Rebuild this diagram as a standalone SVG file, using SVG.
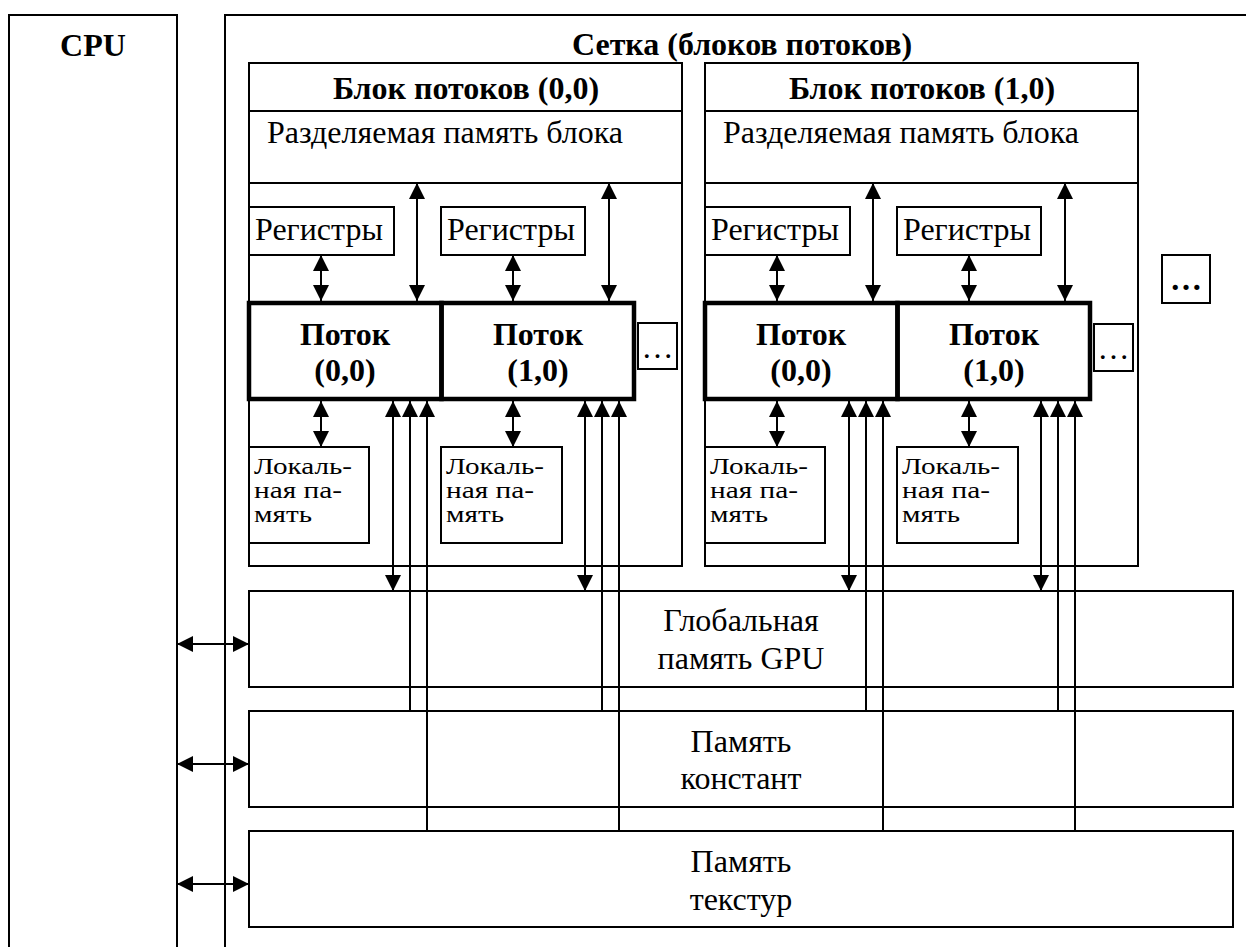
<svg xmlns="http://www.w3.org/2000/svg" width="1246" height="947" viewBox="0 0 1246 947">
<style>
.bx{fill:none;stroke:#000;stroke-width:2}
.th{fill:none;stroke:#000;stroke-width:4.5}
.ln{fill:none;stroke:#000;stroke-width:2}
.t{font-family:"Liberation Serif","Times New Roman",serif;font-size:32px;fill:#000}
.b{font-family:"Liberation Serif","Times New Roman",serif;font-size:32px;font-weight:bold;fill:#000}
.s{font-family:"Liberation Serif","Times New Roman",serif;font-size:24px;fill:#000}
.c{text-anchor:middle}
</style>
<defs>
<marker id="ah" markerUnits="userSpaceOnUse" markerWidth="16" markerHeight="16" viewBox="0 0 16 16" refX="16" refY="8" orient="auto-start-reverse">
<path d="M0,0 L16,8 L0,16 z" fill="#000"/>
</marker>
</defs>
<rect width="1246" height="947" fill="#fff"/>

<g id="cpu">
<path class="bx" d="M9,950 V15 H177 V950"/>
<text class="b c" x="93" y="56">CPU</text>
</g>

<g id="grid">
<path class="bx" d="M225,950 V15 H1250"/>
<text class="b c" x="742" y="55">Сетка (блоков потоков)</text>
</g>

<g id="block0">
<rect class="bx" x="249" y="63" width="433" height="503"/>
<line class="bx" x1="249" y1="111" x2="682" y2="111"/>
<line class="bx" x1="249" y1="183" x2="682" y2="183"/>
<text class="b c" x="466" y="99">Блок потоков (0,0)</text>
<text class="t" x="267" y="143">Разделяемая память блока</text>
</g>
<g id="block0-reg0"><rect class="bx" x="249" y="207" width="145" height="48"/><text class="t" x="255" y="240">Регистры</text></g>
<g id="block0-reg1"><rect class="bx" x="441" y="207" width="144" height="48"/><text class="t" x="447" y="240">Регистры</text></g>
<g id="block0-thread0"><rect class="th" x="249" y="303" width="192.5" height="96"/><text class="b c" x="345" y="345">Поток</text><text class="b c" x="345" y="381">(0,0)</text></g>
<g id="block0-thread1"><rect class="th" x="441.5" y="303" width="192.5" height="96"/><text class="b c" x="538" y="345">Поток</text><text class="b c" x="538" y="381">(1,0)</text></g>
<g id="block0-more"><rect class="bx" x="638" y="323" width="39" height="46"/><text class="t c" x="657.5" y="358">…</text></g>
<g id="block0-local0"><rect class="bx" x="249" y="447" width="120" height="96"/><text class="s"><tspan x="254" y="474" textLength="98" lengthAdjust="spacingAndGlyphs">Локаль-</tspan><tspan x="254" y="498" textLength="88" lengthAdjust="spacingAndGlyphs">ная па-</tspan><tspan x="254" y="522" textLength="58" lengthAdjust="spacingAndGlyphs">мять</tspan></text></g>
<g id="block0-local1"><rect class="bx" x="441" y="447" width="121" height="96"/><text class="s"><tspan x="446" y="474" textLength="98" lengthAdjust="spacingAndGlyphs">Локаль-</tspan><tspan x="446" y="498" textLength="88" lengthAdjust="spacingAndGlyphs">ная па-</tspan><tspan x="446" y="522" textLength="58" lengthAdjust="spacingAndGlyphs">мять</tspan></text></g>

<g id="block1">
<rect class="bx" x="705" y="63" width="433" height="503"/>
<line class="bx" x1="705" y1="111" x2="1138" y2="111"/>
<line class="bx" x1="705" y1="183" x2="1138" y2="183"/>
<text class="b c" x="922" y="99">Блок потоков (1,0)</text>
<text class="t" x="723" y="143">Разделяемая память блока</text>
</g>
<g id="block1-reg0"><rect class="bx" x="705" y="207" width="145" height="48"/><text class="t" x="711" y="240">Регистры</text></g>
<g id="block1-reg1"><rect class="bx" x="897" y="207" width="144" height="48"/><text class="t" x="903" y="240">Регистры</text></g>
<g id="block1-thread0"><rect class="th" x="705" y="303" width="192.5" height="96"/><text class="b c" x="801" y="345">Поток</text><text class="b c" x="801" y="381">(0,0)</text></g>
<g id="block1-thread1"><rect class="th" x="897.5" y="303" width="192.5" height="96"/><text class="b c" x="994" y="345">Поток</text><text class="b c" x="994" y="381">(1,0)</text></g>
<g id="block1-more"><rect class="bx" x="1094" y="324" width="39" height="47"/><text class="t c" x="1113.5" y="359">…</text></g>
<g id="block1-local0"><rect class="bx" x="705" y="447" width="120" height="96"/><text class="s"><tspan x="710" y="474" textLength="98" lengthAdjust="spacingAndGlyphs">Локаль-</tspan><tspan x="710" y="498" textLength="88" lengthAdjust="spacingAndGlyphs">ная па-</tspan><tspan x="710" y="522" textLength="58" lengthAdjust="spacingAndGlyphs">мять</tspan></text></g>
<g id="block1-local1"><rect class="bx" x="897" y="447" width="121" height="96"/><text class="s"><tspan x="902" y="474" textLength="98" lengthAdjust="spacingAndGlyphs">Локаль-</tspan><tspan x="902" y="498" textLength="88" lengthAdjust="spacingAndGlyphs">ная па-</tspan><tspan x="902" y="522" textLength="58" lengthAdjust="spacingAndGlyphs">мять</tspan></text></g>

<g id="more-blocks"><rect class="bx" x="1162" y="255" width="48" height="48"/><text class="b c" x="1186" y="290">…</text></g>

<g id="global-mem"><rect class="bx" x="249" y="591" width="984" height="96"/><text class="t c" x="741" y="631">Глобальная</text><text class="t c" x="741" y="669">память GPU</text></g>
<g id="const-mem"><rect class="bx" x="249" y="711" width="984" height="96"/><text class="t c" x="741" y="752">Память</text><text class="t c" x="741" y="789">констант</text></g>
<g id="tex-mem"><rect class="bx" x="249" y="831" width="984" height="96"/><text class="t c" x="741" y="872">Память</text><text class="t c" x="741" y="910">текстур</text></g>

<g id="connectors">
<line class="ln" x1="417" y1="183" x2="417" y2="301" marker-start="url(#ah)" marker-end="url(#ah)"/>
<line class="ln" x1="609" y1="183" x2="609" y2="301" marker-start="url(#ah)" marker-end="url(#ah)"/>
<line class="ln" x1="321" y1="255" x2="321" y2="301" marker-start="url(#ah)" marker-end="url(#ah)"/>
<line class="ln" x1="513" y1="255" x2="513" y2="301" marker-start="url(#ah)" marker-end="url(#ah)"/>
<line class="ln" x1="321" y1="401" x2="321" y2="447" marker-start="url(#ah)" marker-end="url(#ah)"/>
<line class="ln" x1="513" y1="401" x2="513" y2="447" marker-start="url(#ah)" marker-end="url(#ah)"/>
<line class="ln" x1="393" y1="401" x2="393" y2="591" marker-start="url(#ah)" marker-end="url(#ah)"/>
<line class="ln" x1="410" y1="711" x2="410" y2="401" marker-end="url(#ah)"/>
<line class="ln" x1="427" y1="831" x2="427" y2="401" marker-end="url(#ah)"/>
<line class="ln" x1="585" y1="401" x2="585" y2="591" marker-start="url(#ah)" marker-end="url(#ah)"/>
<line class="ln" x1="602" y1="711" x2="602" y2="401" marker-end="url(#ah)"/>
<line class="ln" x1="619" y1="831" x2="619" y2="401" marker-end="url(#ah)"/>
<line class="ln" x1="873" y1="183" x2="873" y2="301" marker-start="url(#ah)" marker-end="url(#ah)"/>
<line class="ln" x1="1065" y1="183" x2="1065" y2="301" marker-start="url(#ah)" marker-end="url(#ah)"/>
<line class="ln" x1="777" y1="255" x2="777" y2="301" marker-start="url(#ah)" marker-end="url(#ah)"/>
<line class="ln" x1="969" y1="255" x2="969" y2="301" marker-start="url(#ah)" marker-end="url(#ah)"/>
<line class="ln" x1="777" y1="401" x2="777" y2="447" marker-start="url(#ah)" marker-end="url(#ah)"/>
<line class="ln" x1="969" y1="401" x2="969" y2="447" marker-start="url(#ah)" marker-end="url(#ah)"/>
<line class="ln" x1="849" y1="401" x2="849" y2="591" marker-start="url(#ah)" marker-end="url(#ah)"/>
<line class="ln" x1="866" y1="711" x2="866" y2="401" marker-end="url(#ah)"/>
<line class="ln" x1="883" y1="831" x2="883" y2="401" marker-end="url(#ah)"/>
<line class="ln" x1="1041" y1="401" x2="1041" y2="591" marker-start="url(#ah)" marker-end="url(#ah)"/>
<line class="ln" x1="1058" y1="711" x2="1058" y2="401" marker-end="url(#ah)"/>
<line class="ln" x1="1075" y1="831" x2="1075" y2="401" marker-end="url(#ah)"/>
<line class="ln" x1="177" y1="644" x2="249" y2="644" marker-start="url(#ah)" marker-end="url(#ah)"/>
<line class="ln" x1="177" y1="764" x2="249" y2="764" marker-start="url(#ah)" marker-end="url(#ah)"/>
<line class="ln" x1="177" y1="884" x2="249" y2="884" marker-start="url(#ah)" marker-end="url(#ah)"/>
</g>
</svg>
